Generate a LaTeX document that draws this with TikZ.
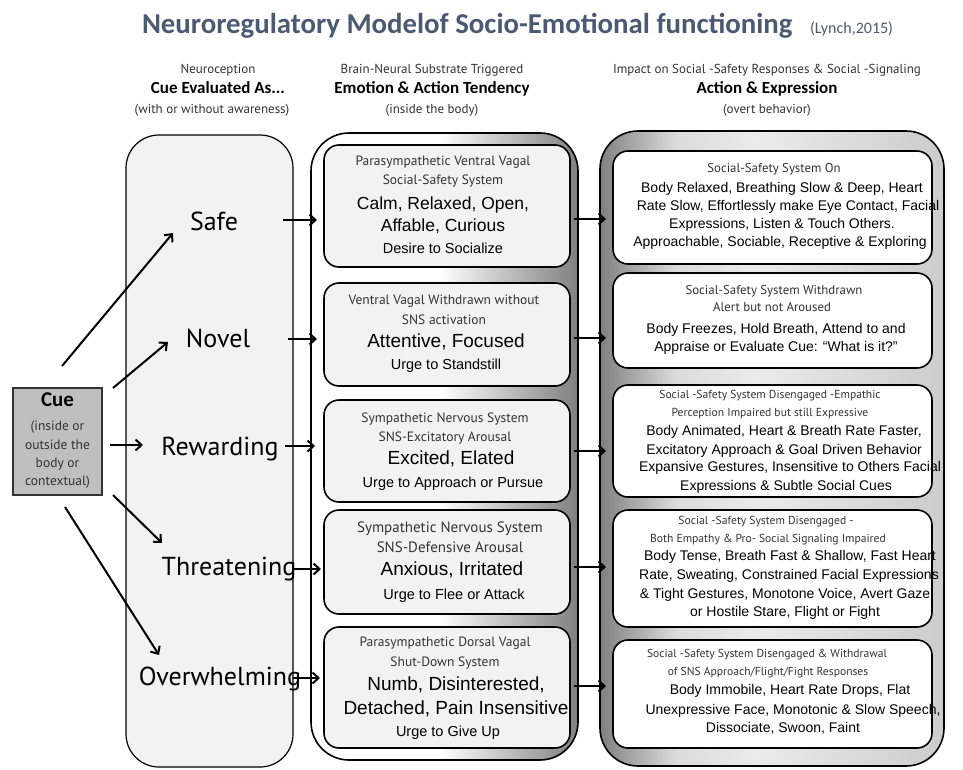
\documentclass[tikz,border=0pt]{standalone}
\usepackage{fontspec}
\setmainfont{Liberation Sans}
\newfontfamily\carl{Carlito}
\newfontfamily\hwf{PT Sans}
\usetikzlibrary{arrows.meta}
\definecolor{titlec}{HTML}{4B5A72}
\definecolor{colfill}{HTML}{F2F2F2}
\definecolor{cuefill}{HTML}{BFBFBF}
\definecolor{hwc}{HTML}{333333}
\pgfdeclarehorizontalshading{midshade}{100bp}{color(0bp)=(white); color(25bp)=(white); color(49bp)=(white); color(75bp)=(black!50); color(100bp)=(black!50)}
\pgfdeclarehorizontalshading{rightshade}{100bp}{color(0bp)=(black!50); color(25bp)=(black!50); color(36bp)=(black!14); color(48bp)=(black!8); color(75bp)=(black!20); color(100bp)=(black!20)}
\begin{document}
\begin{tikzpicture}[x=1pt,y=-1pt,
  every node/.style={inner sep=0pt,outer sep=0pt},
  colbox/.style={draw=black,line width=1.2pt,fill=colfill,rounded corners=33pt},
  outbox/.style={draw=black,line width=1.6pt,rounded corners=38pt},
  midbox/.style={draw=black,line width=1.6pt,fill=colfill,rounded corners=15pt,minimum width=246pt},
  rbox/.style={draw=black,line width=1.6pt,fill=white,rounded corners=15pt,minimum width=319pt},
  hdsmall/.style={font=\hwf\fontsize{13}{15}\selectfont,text=hwc,anchor=mid},
  hdbold/.style={font=\carl\bfseries\fontsize{17}{20}\selectfont,anchor=mid},
  lab/.style={font=\hwf\fontsize{26}{30}\selectfont,anchor=base},
  msmall/.style={font=\hwf\fontsize{13.5}{16}\selectfont,text=hwc,anchor=mid},
  mbig/.style={font=\fontsize{17.5}{20}\selectfont,anchor=mid},
  mhuge/.style={font=\fontsize{19}{22}\selectfont,anchor=mid},
  mmed/.style={font=\fontsize{14.5}{17}\selectfont,anchor=mid},
  rsmall/.style={font=\hwf\fontsize{12.8}{15}\selectfont,text=hwc,anchor=mid},
  rsmaller/.style={font=\hwf\fontsize{11.6}{14}\selectfont,text=hwc,anchor=mid},
  rbody/.style={font=\fontsize{14}{17}\selectfont,anchor=mid},
  cuesmall/.style={font=\hwf\fontsize{13.5}{16}\selectfont,text=hwc,anchor=mid},
  arr/.style={line width=2pt,-{Straight Barb[length=6pt,width=11pt]}}
]
\path[use as bounding box,fill=white] (0,0) rectangle (963,769);

% title
\node[anchor=base west,font=\carl\bfseries\fontsize{28.8}{32}\selectfont,text=titlec] (title) at (142,33) {Neuroregulatory Modelof Socio-Emotional functioning};
\node[anchor=base west,font=\carl\fontsize{16}{18}\selectfont,text=titlec] (cite) at (810,33) {(Lynch,2015)};

% column headers
\node[hdsmall] (h1a) at (218,71) {Neuroception};
\node[hdbold] (h1b) at (218,91) {Cue Evaluated As...};
\node[hdsmall] (h1c) at (212,111) {(with or without awareness)};
\node[hdsmall] (h2a) at (432,71) {Brain-Neural Substrate Triggered};
\node[hdbold] (h2b) at (432,91) {Emotion \& Action Tendency};
\node[hdsmall] (h2c) at (432,111) {(inside the body)};
\node[hdsmall] (h3a) at (767,71) {Impact on Social -Safety Responses \& Social -Signaling};
\node[hdbold] (h3b) at (767,91) {Action \& Expression};
\node[hdsmall] (h3c) at (767,111) {(overt behavior)};

% columns
\node[colbox,minimum width=167pt,minimum height=632pt] (col1) at (209.5,451) {};
\node[outbox,shading=midshade,minimum width=267pt,minimum height=627pt] (col2) at (444.5,446.5) {};
\node[outbox,shading=rightshade,minimum width=344pt,minimum height=635pt] (col3) at (772,448.5) {};

% cue
\node[draw=black!80,line width=1.2pt,fill=cuefill,minimum width=89pt,minimum height=107pt] (cue) at (57.5,441.5) {};
\node[font=\carl\bfseries\fontsize{21}{24}\selectfont,anchor=mid] (cuet) at (57.5,404) {Cue};
\node[cuesmall] (cue1) at (57.5,428) {(inside or};
\node[cuesmall] (cue2) at (57.5,447) {outside the};
\node[cuesmall] (cue3) at (57.5,465) {body or};
\node[cuesmall] (cue4) at (57.5,483) {contextual)};

% evaluation labels
\node[lab] (safe) at (214,230) {Safe};
\node[lab] (novel) at (218,347) {Novel};
\node[lab] (rew) at (220,455) {Rewarding};
\node[lab] (thr) at (229,575) {Threatening};
\node[lab] (ovw) at (220,685) {Overwhelming};

% middle boxes
\node[midbox,minimum height=122pt] (m1) at (447,206) {};
\node[midbox,minimum height=103pt] (m2) at (447,334.5) {};
\node[midbox,minimum height=102pt] (m3) at (447,451) {};
\node[midbox,minimum height=104pt] (m4) at (447,562) {};
\node[midbox,minimum height=121pt] (m5) at (447,687.5) {};

\node[msmall] (m1a) at (443,163) {Parasympathetic Ventral Vagal};
\node[msmall] (m1b) at (443,182) {Social-Safety System};
\node[mbig] (m1c) at (443,207) {Calm, Relaxed, Open,};
\node[mbig] (m1d) at (443,229) {Affable, Curious};
\node[mmed] (m1e) at (443,251) {Desire to Socialize};

\node[msmall] (m2a) at (444,302) {Ventral Vagal Withdrawn without};
\node[msmall] (m2b) at (444,322) {SNS activation};
\node[mhuge] (m2c) at (446,345) {Attentive, Focused};
\node[mmed] (m2d) at (446,367) {Urge to Standstill};

\node[msmall] (m3a) at (445,420) {Sympathetic Nervous System};
\node[msmall] (m3b) at (445,439) {SNS-Excitatory Arousal};
\node[mhuge] (m3c) at (451,462) {Excited, Elated};
\node[mmed] (m3d) at (453,485) {Urge to Approach or Pursue};

\node[msmall,font=\hwf\fontsize{15}{17}\selectfont] (m4a) at (450,530) {Sympathetic Nervous System};
\node[msmall,font=\hwf\fontsize{15}{17}\selectfont] (m4b) at (450,550) {SNS-Defensive Arousal};
\node[mhuge] (m4c) at (452,573) {Anxious, Irritated};
\node[mmed] (m4d) at (454,597) {Urge to Flee or Attack};

\node[msmall] (m5a) at (445,644) {Parasympathetic Dorsal Vagal};
\node[msmall] (m5b) at (445,664) {Shut-Down System};
\node[mhuge] (m5c) at (456,688) {Numb, Disinterested,};
\node[mhuge] (m5d) at (456,712) {Detached, Pain Insensitive};
\node[mmed] (m5e) at (448,734) {Urge to Give Up};

% right boxes
\node[rbox,minimum height=113pt] (r1) at (772.5,207.5) {};
\node[rbox,minimum height=95pt] (r2) at (772.5,320.5) {};
\node[rbox,minimum height=112pt] (r3) at (772.5,441) {};
\node[rbox,minimum height=117pt] (r4) at (772.5,568.5) {};
\node[rbox,minimum height=108pt] (r5) at (772.5,694) {};

\node[rsmall] (r1a) at (774,170) {Social-Safety System On};
\node[rbody] (r1b) at (782,190) {Body Relaxed, Breathing Slow \& Deep, Heart};
\node[rbody] (r1c) at (788,208) {Rate Slow, Effortlessly make Eye Contact, Facial};
\node[rbody] (r1d) at (782,226) {Expressions, Listen \& Touch Others.};
\node[rbody] (r1e) at (780,244) {Approachable, Sociable, Receptive \& Exploring};

\node[rsmall] (r2a) at (774,292) {Social-Safety System Withdrawn};
\node[rsmall] (r2b) at (772,309) {Alert but not Aroused};
\node[rbody] (r2c) at (776,331) {Body Freezes, Hold Breath, Attend to and};
\node[rbody] (r2d) at (776,349) {Appraise or Evaluate Cue: “What is it?”};

\node[rsmaller] (r3a) at (770,396) {Social -Safety System Disengaged -Empathic};
\node[rsmaller] (r3b) at (770,414) {Perception Impaired but still Expressive};
\node[rbody] (r3c) at (784,433) {Body Animated, Heart \& Breath Rate Faster,};
\node[rbody] (r3d) at (784,452) {Excitatory Approach \& Goal Driven Behavior};
\node[rbody] (r3e) at (790,469) {Expansive Gestures, Insensitive to Others Facial};
\node[rbody] (r3f) at (786,488) {Expressions \& Subtle Social Cues};

\node[rsmaller] (r4a) at (766,522) {Social -Safety System Disengaged -};
\node[rsmaller] (r4b) at (768,540) {Both Empathy \& Pro- Social Signaling Impaired};
\node[rbody] (r4c) at (790,558) {Body Tense, Breath Fast \& Shallow, Fast Heart};
\node[rbody] (r4d) at (789,577) {Rate, Sweating, Constrained Facial Expressions};
\node[rbody] (r4e) at (785,596) {\& Tight Gestures, Monotone Voice, Avert Gaze};
\node[rbody] (r4f) at (785,614) {or Hostile Stare, Flight or Fight};

\node[rsmaller] (r5a) at (767,655) {Social -Safety System Disengaged \& Withdrawal};
\node[rsmaller] (r5b) at (768,673) {of SNS Approach/Flight/Fight Responses};
\node[rbody] (r5c) at (790,692) {Body Immobile, Heart Rate Drops, Flat};
\node[rbody] (r5d) at (793,712) {Unexpressive Face, Monotonic \& Slow Speech,};
\node[rbody] (r5e) at (783,730) {Dissociate, Swoon, Faint};

% arrow end points
\coordinate (cs1) at (62,366);   \coordinate (ce1) at (173,233);
\coordinate (cs2) at (113,388);  \coordinate (ce2) at (168,342);
\coordinate (cs3) at (110,445);  \coordinate (ce3) at (143,445);
\coordinate (cs4) at (113,495);  \coordinate (ce4) at (162,543);
\coordinate (cs5) at (65,507);   \coordinate (ce5) at (159,655);

\coordinate (ls1) at (283,220); \coordinate (le1) at (317,220);
\coordinate (ls2) at (288,339); \coordinate (le2) at (317,339);
\coordinate (ls3) at (285,446); \coordinate (le3) at (315,446);
\coordinate (ls4) at (292,569); \coordinate (le4) at (321,569);
\coordinate (ls5) at (293,678); \coordinate (le5) at (320,678);

\coordinate (rs1) at (574,219); \coordinate (re1) at (606,219);
\coordinate (rs2) at (574,338); \coordinate (re2) at (606,338);
\coordinate (rs3) at (574,451); \coordinate (re3) at (606,451);
\coordinate (rs4) at (574,567); \coordinate (re4) at (606,567);
\coordinate (rs5) at (574,686); \coordinate (re5) at (606,686);

\foreach \i in {1,...,5}{
  \draw[arr] (cs\i) -- (ce\i);
  \draw[arr] (ls\i) -- (le\i);
  \draw[arr] (rs\i) -- (re\i);
}
\end{tikzpicture}
\end{document}
